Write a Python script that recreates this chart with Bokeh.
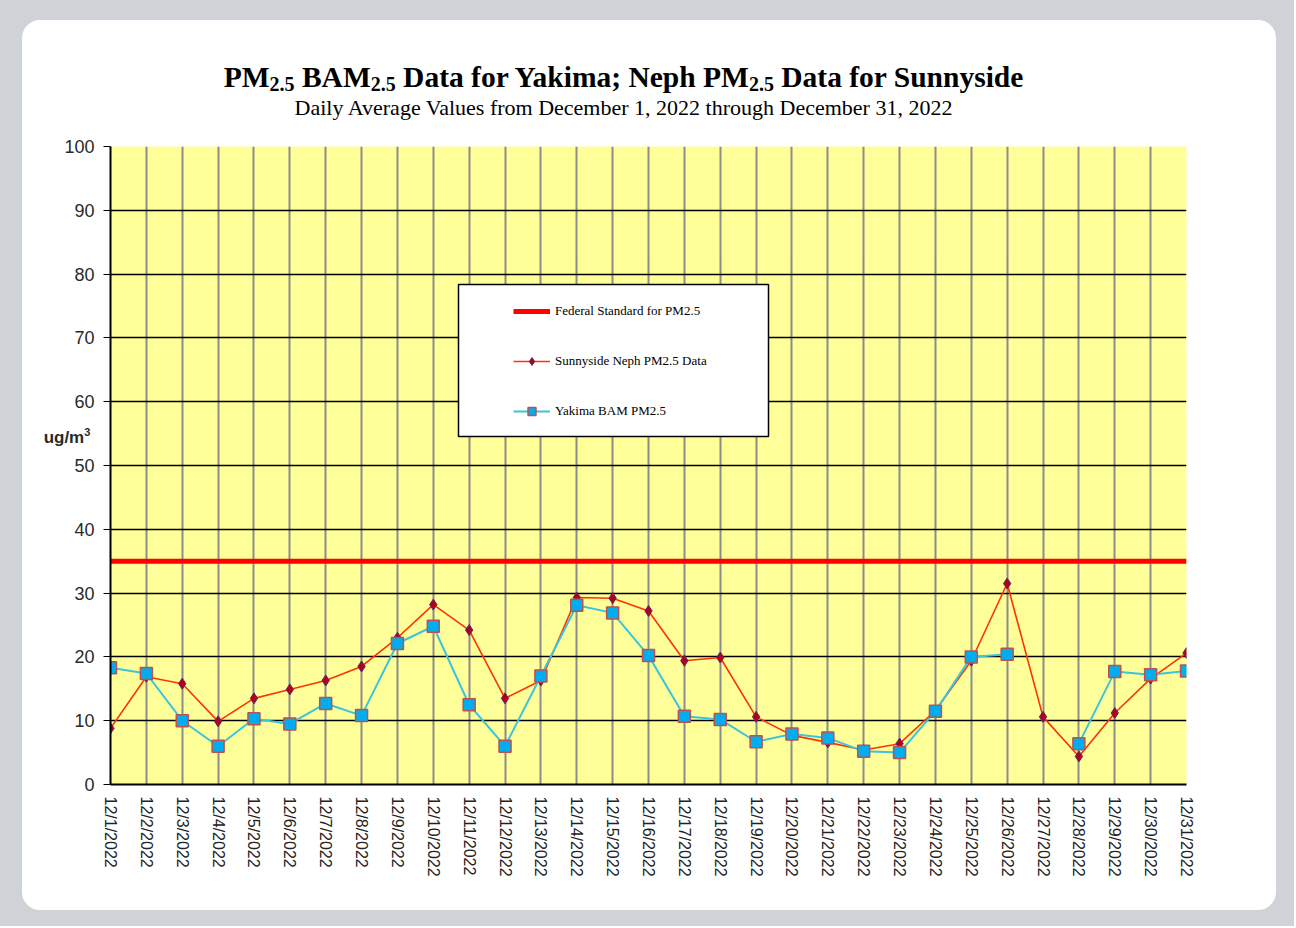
from bokeh.plotting import figure
from bokeh.models import (Range1d, FixedTicker, Legend, LegendItem,
                          BoxAnnotation, Div, Spacer)
from bokeh.layouts import column, row
from bokeh.embed import file_html
from bokeh.resources import INLINE

# ---------------- data ----------------
days = list(range(1, 32))
date_labels = [
    "12/1/2022", "12/2/2022", "12/3/2022", "12/4/2022", "12/5/2022", "12/6/2022",
    "12/7/2022", "12/8/2022", "12/9/2022", "12/10/2022", "12/11/2022", "12/12/2022",
    "12/13/2022", "12/14/2022", "12/15/2022", "12/16/2022", "12/17/2022", "12/18/2022",
    "12/19/2022", "12/20/2022", "12/21/2022", "12/22/2022", "12/23/2022", "12/24/2022",
    "12/25/2022", "12/26/2022", "12/27/2022", "12/28/2022", "12/29/2022", "12/30/2022",
    "12/31/2022",
]
sunnyside_neph = [8.8, 16.9, 15.8, 9.9, 13.5, 14.9, 16.3, 18.5, 23.0, 28.2, 24.2,
                  13.5, 16.3, 29.3, 29.2, 27.2, 19.4, 19.9, 10.6, 7.7, 6.6, 5.4,
                  6.4, 11.6, 19.4, 31.5, 10.6, 4.4, 11.2, 16.6, 20.6]
yakima_bam = [18.3, 17.4, 10.0, 6.0, 10.3, 9.5, 12.7, 10.8, 22.1, 24.8, 12.5,
              6.0, 17.0, 28.1, 26.9, 20.2, 10.7, 10.2, 6.7, 7.9, 7.3, 5.2,
              5.0, 11.5, 20.0, 20.4, float("nan"), 6.4, 17.7, 17.2, 17.8]
federal_standard_value = 35
y_ticks = [0, 10, 20, 30, 40, 50, 60, 70, 80, 90, 100]

legend_labels = ["Federal Standard for PM2.5", "Sunnyside Neph PM2.5 Data", "Yakima BAM PM2.5"]
title_parts = ["PM", "2.5", " BAM", "2.5", " Data for Yakima; Neph PM", "2.5", " Data for Sunnyside"]
subtitle = "Daily Average Values from December 1, 2022 through December 31, 2022"
y_unit_label = "ug/m<sup style=\"font-size:11px;\">3</sup>"

# ---------------- sizes ----------------
PANEL_W, PANEL_H = 1254, 890
TITLE_H = 110
FIG_H = PANEL_H - TITLE_H

# ---------------- title block (HTML with real subscripts) ----------------
sub_style = "font-size:20px;position:relative;top:4px;"
title_html = "".join(
    (f'<span style="{sub_style}">{t}</span>' if i % 2 == 1 else t)
    for i, t in enumerate(title_parts)
)
title_div = Div(
    text=(
        '<div style="position:relative;font-family:\'Liberation Serif\',\'Times New Roman\',serif;'
        'text-align:center;width:1254px;box-sizing:border-box;padding-right:51px;color:black;">'
        f'<div style="font-size:29.5px;font-weight:bold;line-height:30px;padding-top:42px;white-space:pre;">{title_html}</div>'
        f'<div style="font-size:22px;line-height:24px;padding-top:1px;white-space:nowrap;">{subtitle}</div>'
        '<div style="position:absolute;left:15px;top:404px;width:60px;text-align:center;z-index:10;'
        'font-family:\'Liberation Sans\',Arial,sans-serif;font-weight:bold;font-size:17px;'
        f'line-height:17px;color:#2a2a2a;white-space:nowrap;">{y_unit_label}</div>'
        '</div>'
    ),
    width=PANEL_W, height=TITLE_H, margin=0,
    styles={"overflow": "visible", "z-index": "10", "position": "relative"},
)

# ---------------- figure ----------------
p = figure(width=PANEL_W, height=FIG_H, output_backend="svg", toolbar_location=None,
           x_range=Range1d(1, 31), y_range=Range1d(0, 100),
           min_border_left=88, min_border_right=90, min_border_top=16,
           min_border_bottom=126, margin=0)
p.background_fill_color = "#FFFF99"
p.border_fill_color = "white"
p.border_fill_alpha = 0
p.outline_line_color = None

# axes
p.xaxis.ticker = FixedTicker(ticks=days)
p.xaxis.major_label_overrides = {d: lab for d, lab in zip(days, date_labels)}
p.xaxis.major_label_orientation = "vertical"
p.xaxis.major_label_text_font = "Liberation Sans"
p.xaxis.major_label_text_font_size = "16px"
p.xaxis.major_label_text_color = "#222222"
p.xaxis.major_label_standoff = 12
p.xaxis.major_tick_out = 0
p.xaxis.major_tick_in = 0
p.xaxis.minor_tick_line_color = None
p.xaxis.major_tick_line_color = None
p.xaxis.axis_line_color = "black"
p.xaxis.axis_line_width = 2

p.yaxis.ticker = FixedTicker(ticks=y_ticks)
p.yaxis.major_label_text_font = "Liberation Sans"
p.yaxis.major_label_text_font_size = "18px"
p.yaxis.major_label_text_color = "#2a2a2a"
p.yaxis.major_label_standoff = 9
p.yaxis.major_tick_out = 7
p.yaxis.major_tick_in = 0
p.yaxis.minor_tick_line_color = None
p.yaxis.axis_line_color = "black"
p.yaxis.axis_line_width = 2
p.yaxis.major_tick_line_color = "black"

# grids
p.xgrid.ticker = FixedTicker(ticks=days)
p.xgrid.grid_line_color = "#8c8c8c"
p.xgrid.grid_line_width = 2
p.ygrid.ticker = FixedTicker(ticks=y_ticks)
p.ygrid.grid_line_color = "black"
p.ygrid.grid_line_width = 1.5

# ---------------- series ----------------
fed = p.line(days, [federal_standard_value] * len(days), line_color="#FF0000", line_width=5)

sun_line = p.line(days, sunnyside_neph, line_color="#FF3300", line_width=1.6)
sun_pts = p.scatter(days, sunnyside_neph, marker="diamond", size=11,
                    fill_color="#B0001E", line_color="#5A2A6A", line_width=1)

yak_line = p.line(days, yakima_bam, line_color="#3CC4DC", line_width=2)
yak_pts = p.scatter(days, yakima_bam, marker="square", size=12,
                    fill_color="#00AEEF", line_color="#C0504D", line_width=1.5)

# ---------------- legend ----------------
px_per_day = (1186 - 110) / 30.0
px_per_unit = (784 - 146) / 100.0
box = BoxAnnotation(left=1 + (458 - 110) / px_per_day, right=1 + (768 - 110) / px_per_day,
                    bottom=(784 - 436) / px_per_unit, top=(784 - 284) / px_per_unit,
                    fill_color="white", fill_alpha=1.0, line_color="black", line_alpha=1.0,
                    line_width=1.5)
p.add_layout(box)

legend = Legend(items=[
    LegendItem(label=legend_labels[0], renderers=[fed]),
    LegendItem(label=legend_labels[1], renderers=[sun_line, sun_pts]),
    LegendItem(label=legend_labels[2], renderers=[yak_line, yak_pts]),
], location=(393, 353), padding=10, spacing=30, glyph_width=37, glyph_height=20,
    label_height=20, label_standoff=5,
    label_text_font="Liberation Serif", label_text_font_size="13px",
    label_text_color="black", background_fill_alpha=0, border_line_alpha=0)
p.add_layout(legend, "center")

# ---------------- page frame ----------------
panel = column(title_div, p, width=PANEL_W, height=PANEL_H,
               styles={"background-color": "white", "border-radius": "18px"})
page = column(
    Spacer(width=1294, height=20),
    row(Spacer(width=22, height=PANEL_H), panel, Spacer(width=18, height=PANEL_H)),
    Spacer(width=1294, height=16),
    styles={"background-color": "#cfd2d6"},
)

open("out.html", "w").write(file_html(page, INLINE))
